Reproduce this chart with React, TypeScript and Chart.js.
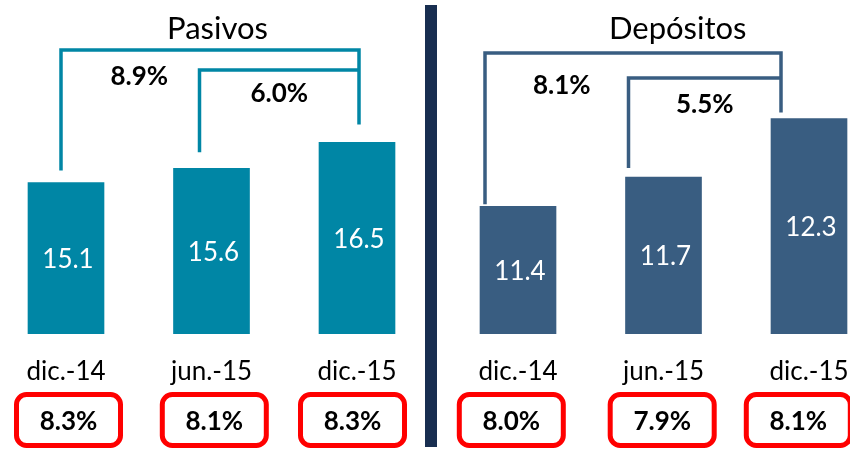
import React, { useEffect, useRef } from "react";
import { Chart, registerables } from "chart.js";

Chart.register(...registerables);

// ---- data ----
const categories = ["dic.-14", "jun.-15", "dic.-15"];
const pasivosValues = [15.1, 15.6, 16.5];
const depositosValues = [11.4, 11.7, 12.3];
const pasivosShares = [8.3, 8.1, 8.3];
const depositosShares = [8.0, 7.9, 8.1];
// growth: [dic.-14 -> dic.-15, jun.-15 -> dic.-15]
const pasivosGrowth = [8.9, 6.0];
const depositosGrowth = [8.1, 5.5];

const FONT = "Lato, 'Open Sans', sans-serif";
const DIVIDER = "#182E50";

interface PanelCfg {
  title: string;
  values: number[];
  shares: number[];
  growth: number[];
  color: string;
  yMin: number;
  yMax: number;
  padLeft: number;
  padRight: number;
  titleX: number;
  bracketDx: number[];
  bracketGap: number[];
  outerY: number;
  innerY: number;
  outerLabel: [number, number];
  innerLabel: [number, number];
  boxDx: number[];
  divider: boolean;
}

const pasivosPanel: PanelCfg = {
  title: "Pasivos",
  values: pasivosValues,
  shares: pasivosShares,
  growth: pasivosGrowth,
  color: "#0086A5",
  yMin: 9.83,
  yMax: 20.76,
  padLeft: 66,
  padRight: 68,
  titleX: 217.5,
  bracketDx: [-5, -12, 2],
  bracketGap: [12, 16, 18],
  outerY: 50,
  innerY: 70,
  outerLabel: [9, 27],
  innerLabel: [0, 24],
  boxDx: [2.5, 2.8, -4.5],
  divider: false,
};

const depositosPanel: PanelCfg = {
  title: "Depósitos",
  values: depositosValues,
  shares: depositosShares,
  growth: depositosGrowth,
  color: "#395D81",
  yMin: 10.09,
  yMax: 13.31,
  padLeft: 93,
  padRight: 41,
  titleX: 252.7,
  bracketDx: [-33, -35, -28],
  bracketGap: [2, 9, 6],
  outerY: 53,
  innerY: 78,
  outerLabel: [5, 33],
  innerLabel: [0, 27],
  boxDx: [-6.7, -1.3, -10.7],
  divider: true,
};

const fmt = (v: number) => v.toFixed(1);

function overlay(cfg: PanelCfg) {
  return {
    id: "overlay",
    afterDatasetsDraw(chart: any) {
      const ctx: CanvasRenderingContext2D = chart.ctx;
      const bars = chart.getDatasetMeta(0).data;
      const ca = chart.chartArea;
      ctx.save();

      if (cfg.divider) {
        ctx.fillStyle = DIVIDER;
        ctx.fillRect(0, 5, 12, 442);
      }

      // title
      ctx.fillStyle = "#000";
      ctx.textAlign = "center";
      ctx.textBaseline = "alphabetic";
      ctx.font = `31px ${FONT}`;
      ctx.fillText(cfg.title, cfg.titleX, 38.5);

      // values inside bars
      ctx.textBaseline = "middle";
      ctx.font = `26px ${FONT}`;
      ctx.fillStyle = "#fff";
      bars.forEach((b: any, i: number) => {
        ctx.fillText(fmt(cfg.values[i]), b.x + 2, (b.y + ca.bottom) / 2 + 1);
      });

      // brackets
      const xs = bars.map((b: any, i: number) => b.x + cfg.bracketDx[i]);
      const ends = bars.map((b: any, i: number) => b.y - cfg.bracketGap[i]);
      ctx.strokeStyle = cfg.color;
      ctx.lineWidth = 3.5;
      ctx.lineCap = "butt";
      ctx.lineJoin = "miter";
      ctx.beginPath();
      ctx.moveTo(xs[0], ends[0]);
      ctx.lineTo(xs[0], cfg.outerY);
      ctx.lineTo(xs[2], cfg.outerY);
      ctx.lineTo(xs[2], ends[2]);
      ctx.stroke();
      ctx.beginPath();
      ctx.moveTo(xs[1], ends[1]);
      ctx.lineTo(xs[1], cfg.innerY);
      ctx.lineTo(xs[2], cfg.innerY);
      ctx.stroke();

      ctx.fillStyle = "#000";
      ctx.font = `bold 26px ${FONT}`;
      ctx.fillText(
        fmt(cfg.growth[0]) + "%",
        (xs[0] + xs[1]) / 2 + cfg.outerLabel[0],
        cfg.outerY + cfg.outerLabel[1]
      );
      ctx.fillText(
        fmt(cfg.growth[1]) + "%",
        (xs[1] + xs[2]) / 2 + cfg.innerLabel[0],
        cfg.innerY + cfg.innerLabel[1]
      );

      // red boxes with shares
      bars.forEach((b: any, i: number) => {
        const cx = b.x + cfg.boxDx[i];
        const w = 104;
        const h = 51;
        const top = 394.5;
        ctx.strokeStyle = "#FF0000";
        ctx.lineWidth = 5;
        ctx.beginPath();
        (ctx as any).roundRect(cx - w / 2, top, w, h, 10);
        ctx.stroke();
        ctx.fillStyle = "#000";
        ctx.font = `bold 26px ${FONT}`;
        ctx.fillText(fmt(cfg.shares[i]) + "%", cx, 421.5);
      });

      ctx.restore();
    },
  };
}

function Panel({ cfg, left }: { cfg: PanelCfg; left: number }) {
  const ref = useRef<HTMLCanvasElement>(null);
  useEffect(() => {
    const chart = new Chart(ref.current as HTMLCanvasElement, {
      type: "bar",
      data: {
        labels: categories,
        datasets: [
          {
            data: cfg.values,
            backgroundColor: cfg.color,
            borderWidth: 0,
            barThickness: 76,
            base: cfg.yMin,
            clip: { left: 45, right: 45, top: 5, bottom: 0 } as any,
          },
        ],
      },
      options: {
        responsive: false,
        animation: false,
        devicePixelRatio: 1,
        events: [],
        layout: {
          padding: { left: cfg.padLeft, right: cfg.padRight, top: 20, bottom: 0 },
        },
        plugins: {
          legend: { display: false },
          tooltip: { enabled: false },
          title: { display: false },
        },
        scales: {
          x: {
            type: "category",
            offset: false,
            grid: { display: false, drawTicks: false },
            border: { display: false },
            ticks: {
              color: "#000",
              font: { family: FONT, size: 26 },
              padding: 22,
              maxRotation: 0,
              autoSkip: false,
            },
            afterFit: (s: any) => {
              s.height = 115;
              s.paddingLeft = 0;
              s.paddingRight = 0;
            },
          },
          y: { display: false, min: cfg.yMin, max: cfg.yMax },
        },
      } as any,
      plugins: [overlay(cfg)],
    });
    return () => chart.destroy();
  }, [cfg]);
  return (
    <canvas
      ref={ref}
      width={425}
      height={449}
      style={{ position: "absolute", left, top: 0, width: 425, height: 449 }}
    />
  );
}

export default function App() {
  return (
    <div
      style={{
        position: "fixed",
        left: 0,
        top: 0,
        width: 850,
        height: 449,
        background: "#fff",
        overflow: "hidden",
      }}
    >
      <Panel cfg={pasivosPanel} left={0} />
      <Panel cfg={depositosPanel} left={425} />
    </div>
  );
}
